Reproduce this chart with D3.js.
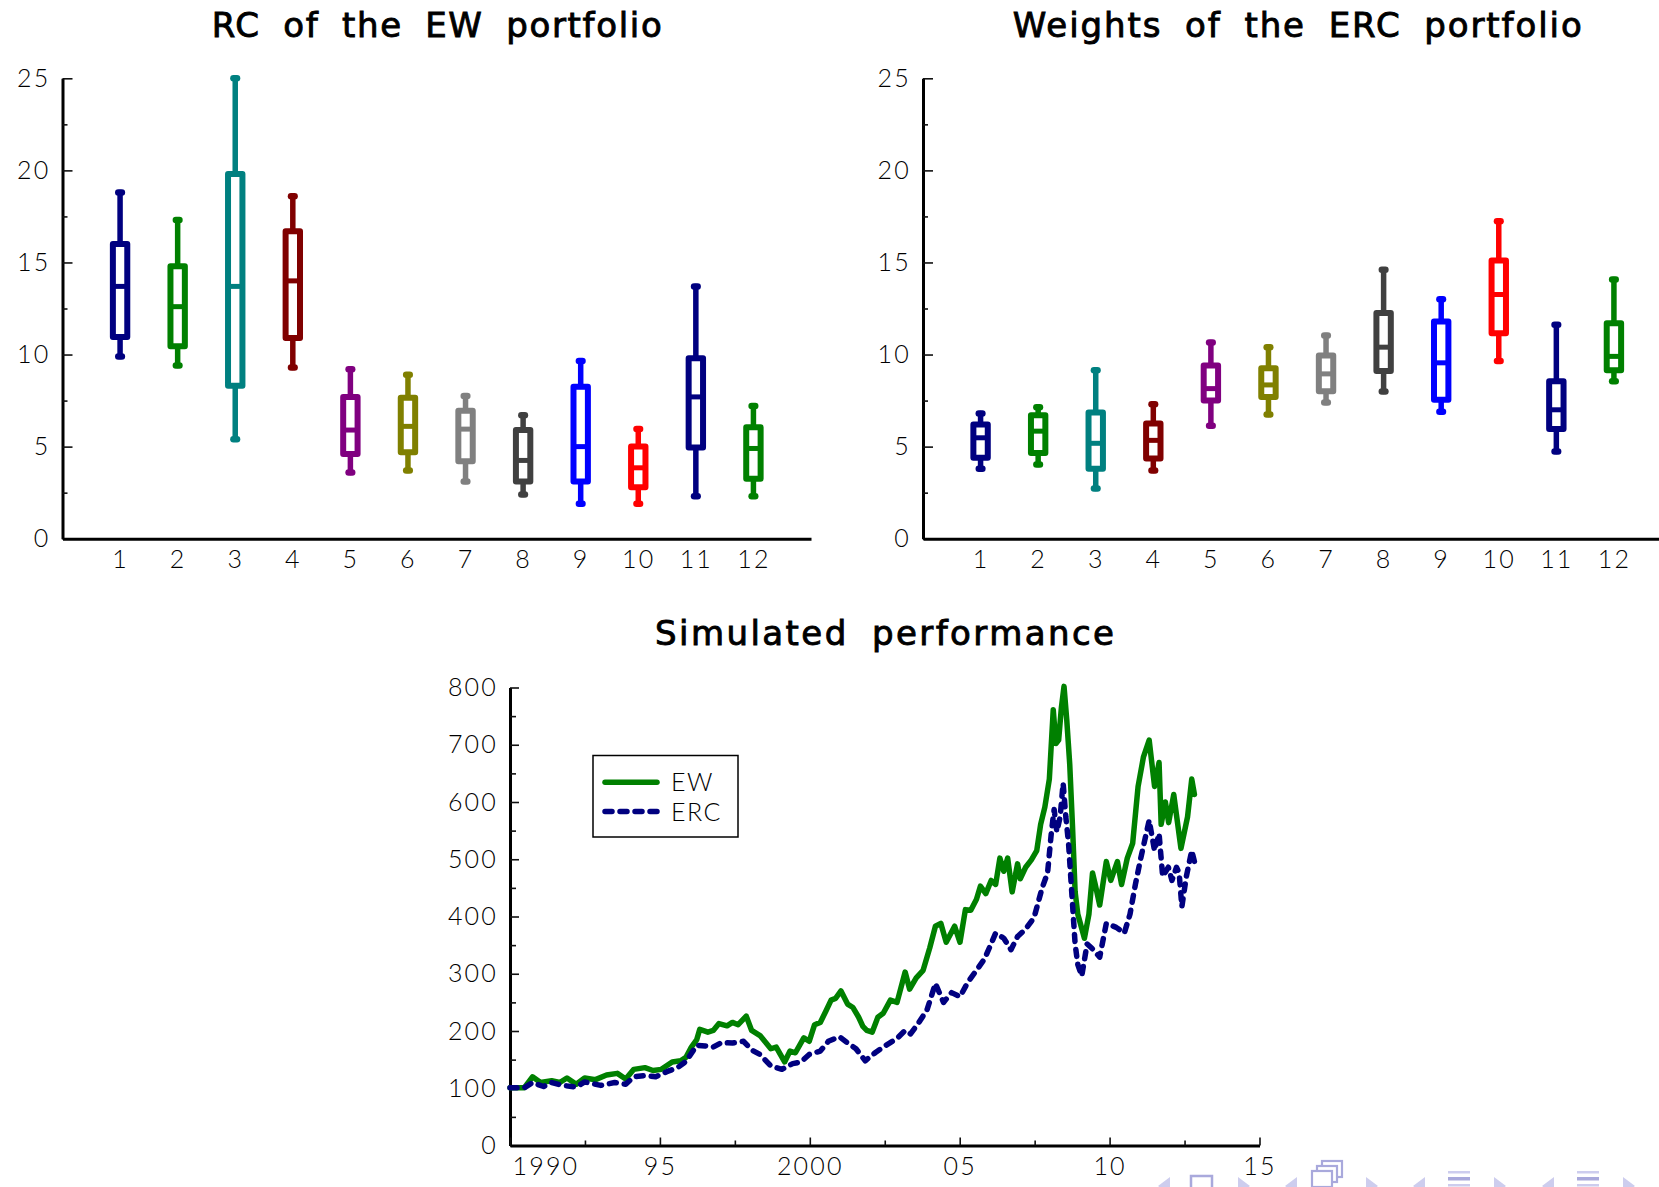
<!DOCTYPE html>
<html><head><meta charset="utf-8">
<script src="https://cdn.jsdelivr.net/npm/d3@7"></script>
<style>
body{margin:0;background:#fff;}
svg{display:block;}
</style></head><body>
<svg id="c" width="1659" height="1187"></svg>
<script>
// ---------------- DATA ----------------
const categories = [1,2,3,4,5,6,7,8,9,10,11,12];

// RC of the EW portfolio (box plots)
const ewMax = [18.8, 17.3, 25.0, 18.6, 9.2, 8.9, 7.75, 6.7, 9.65, 5.95, 13.7, 7.2];
const ewQ3  = [16.0, 14.8, 19.8, 16.7, 7.7, 7.65, 6.95, 5.9, 8.25, 5.0, 9.8, 6.05];
const ewMed = [13.7, 12.6, 13.7, 14.0, 5.9, 6.1, 5.95, 4.25, 5.0, 3.85, 7.7, 4.9];
const ewQ1  = [10.95, 10.45, 8.3, 10.9, 4.6, 4.7, 4.2, 3.1, 3.1, 2.8, 4.95, 3.25];
const ewMin = [9.9, 9.4, 5.4, 9.3, 3.6, 3.7, 3.1, 2.4, 1.9, 1.9, 2.3, 2.3];

// Weights of the ERC portfolio (box plots)
const ercMax = [6.8, 7.14, 9.15, 7.3, 10.65, 10.4, 11.04, 14.6, 13.0, 17.24, 11.62, 14.07];
const ercQ3  = [6.2, 6.7, 6.85, 6.25, 9.4, 9.25, 9.95, 12.25, 11.8, 15.1, 8.55, 11.7];
const ercMed = [5.48, 5.84, 5.18, 5.34, 8.15, 8.35, 8.95, 10.4, 9.55, 13.26, 7.0, 9.9];
const ercQ1  = [4.4, 4.65, 3.8, 4.35, 7.5, 7.7, 8.0, 9.1, 7.55, 11.15, 5.95, 9.15];
const ercMin = [3.8, 4.03, 2.73, 3.7, 6.14, 6.74, 7.4, 7.99, 6.9, 9.65, 4.74, 8.55];

const boxTicks = [0, 5, 10, 15, 20, 25];
const boxMinorTicks = [2.5, 7.5, 12.5, 17.5, 22.5];

// Simulated performance: [year, value]
const ewPerf = [
[1990.0,101],[1990.48,101],[1990.75,120],[1991.02,110],[1991.39,113],[1991.66,110],[1991.9,118],
[1992.21,107],[1992.49,118],[1992.85,115],[1993.22,123],[1993.58,126],[1993.86,116],[1994.13,133],
[1994.5,136],[1994.77,131],[1995.05,133],[1995.41,146],[1995.69,148],[1995.87,154],[1996.05,172],
[1996.23,185],[1996.33,203],[1996.6,198],[1996.78,201],[1996.97,213],[1997.24,209],[1997.42,215],
[1997.61,211],[1997.88,226],[1998.06,201],[1998.34,192],[1998.7,169],[1998.88,172],[1999.16,146],
[1999.34,165],[1999.52,162],[1999.8,188],[1999.98,182],[2000.16,211],[2000.35,215],[2000.53,234],
[2000.71,254],[2000.86,257],[2001.04,270],[2001.26,247],[2001.44,241],[2001.63,224],[2001.77,208],
[2001.9,201],[2002.08,198],[2002.27,224],[2002.45,231],[2002.69,254],[2002.91,250],[2003.18,303],
[2003.33,273],[2003.55,293],[2003.78,306],[2004.0,345],[2004.19,383],[2004.37,388],[2004.55,355],
[2004.83,383],[2005.01,355],[2005.19,412],[2005.37,411],[2005.56,430],[2005.69,453],[2005.87,440],
[2006.05,463],[2006.2,456],[2006.34,502],[2006.47,479],[2006.6,502],[2006.75,443],[2006.93,492],
[2007.02,466],[2007.2,486],[2007.39,499],[2007.57,515],[2007.7,561],[2007.84,591],[2007.99,640],
[2008.12,761],[2008.21,702],[2008.3,708],[2008.39,764],[2008.48,802],[2008.57,744],[2008.67,666],
[2008.76,561],[2008.85,443],[2008.94,404],[2009.16,362],[2009.31,404],[2009.43,476],[2009.52,456],
[2009.67,420],[2009.89,496],[2010.04,463],[2010.26,496],[2010.4,456],[2010.59,502],[2010.77,528],
[2010.95,627],[2011.13,679],[2011.32,708],[2011.5,627],[2011.65,669],[2011.72,561],[2011.86,600],
[2011.97,564],[2012.14,613],[2012.38,519],[2012.6,574],[2012.74,640],[2012.83,613]
];
const ercPerf = [
[1990.0,101],[1990.48,101],[1990.75,110],[1991.12,103],[1991.39,110],[1991.76,105],[1992.21,102],
[1992.49,111],[1993.03,105],[1993.49,110],[1993.86,107],[1994.13,120],[1994.5,122],[1994.86,120],
[1995.23,129],[1995.59,136],[1995.87,147],[1996.23,175],[1996.51,174],[1996.78,172],[1997.06,180],
[1997.42,179],[1997.79,182],[1998.06,167],[1998.34,159],[1998.7,139],[1999.07,133],[1999.43,143],
[1999.71,146],[1999.98,159],[2000.35,165],[2000.62,182],[2000.99,190],[2001.26,179],[2001.54,169],
[2001.85,148],[2002.18,162],[2002.54,175],[2002.91,187],[2003.18,201],[2003.36,195],[2003.64,215],
[2003.91,237],[2004.19,283],[2004.46,250],[2004.73,267],[2005.01,260],[2005.28,286],[2005.56,306],
[2005.83,326],[2006.2,371],[2006.47,362],[2006.71,342],[2006.93,365],[2007.2,378],[2007.48,398],
[2007.75,450],[2007.93,476],[2008.06,548],[2008.15,587],[2008.24,548],[2008.35,574],[2008.45,633],
[2008.54,574],[2008.63,528],[2008.72,456],[2008.85,352],[2008.94,316],[2009.07,296],[2009.25,352],
[2009.4,345],[2009.67,329],[2009.89,388],[2010.22,381],[2010.49,371],[2010.68,404],[2010.86,456],
[2011.04,502],[2011.32,568],[2011.5,515],[2011.65,545],[2011.77,470],[2011.96,486],[2012.08,463],
[2012.23,486],[2012.32,476],[2012.41,417],[2012.56,470],[2012.74,515],[2012.83,496]
];
const perfYTicks = [0,100,200,300,400,500,600,700,800];
const perfYMinor = [50,150,250,350,450,550,650,750];
const perfXTicks = [1990,1995,2000,2005,2010,2015];
const perfXLabels = ["1990","95","2000","05","10","15"];
const perfXMinor = [1992.5,1997.5,2002.5,2007.5,2012.5];
const seriesNames = ["EW","ERC"];

// ---------------- STYLE ----------------
const palette = ["#000080","#008000","#008080","#800000","#800080","#808000","#808080","#404040","#0000ff","#ff0000","#000080","#008000"];
const TICKFONT = "Lato, 'DejaVu Sans', sans-serif";
const TITLEFONT = "'DejaVu Sans', sans-serif";

const svg = d3.select("#c");

function title(x, y, txt, len){
  svg.append("text").attr("x",x).attr("y",y).attr("text-anchor","middle")
    .attr("font-family",TITLEFONT).attr("font-weight","normal").attr("font-size",34)
    .attr("stroke","#000").attr("stroke-width",0.9).attr("word-spacing","10px")
    .attr("textLength",len).attr("lengthAdjust","spacing")
    .text(txt);
}

function styleAxis(g){
  g.selectAll("text").attr("font-family",TICKFONT).attr("font-weight",300)
   .attr("font-size",25).attr("fill","#000").attr("letter-spacing","2.2px");
  g.selectAll(".tick line").attr("stroke","#111").attr("stroke-width",1.6);
}

function boxPanel(x0, x1, title_txt, tlen, mx, q3, md, q1, mn){
  const x = d3.scaleLinear().domain([0,13]).range([x0, x1]);
  const y = d3.scaleLinear().domain([0,25]).range([538.7, 78.3]);
  // y axis
  const gy = svg.append("g").attr("transform",`translate(${x0},0)`);
  gy.call(d3.axisLeft(y).tickValues(boxTicks).tickSizeInner(-10).tickSizeOuter(0).tickPadding(12).tickFormat(d3.format("d")));
  gy.select(".domain").attr("stroke","#000").attr("stroke-width",3);
  styleAxis(gy);
  const gym = svg.append("g").attr("transform",`translate(${x0},0)`);
  gym.call(d3.axisLeft(y).tickValues(boxMinorTicks).tickSizeInner(-5).tickSizeOuter(0).tickFormat(""));
  gym.select(".domain").remove();
  styleAxis(gym);
  // x axis
  const gx = svg.append("g").attr("transform",`translate(0,${y(0)})`);
  gx.call(d3.axisBottom(x).tickValues(categories).tickSize(0).tickPadding(12).tickFormat(d3.format("d")));
  gx.select(".domain").attr("stroke","#000").attr("stroke-width",3);
  styleAxis(gx);

  const hw = 7.2;
  categories.forEach((c,i)=>{
    const g = svg.append("g").attr("stroke",palette[i]).attr("fill","none").attr("stroke-linecap","round");
    const cx = x(c);
    // whiskers
    g.append("line").attr("x1",cx).attr("x2",cx).attr("y1",y(q3[i])).attr("y2",y(mx[i])).attr("stroke-width",5.5);
    g.append("line").attr("x1",cx).attr("x2",cx).attr("y1",y(q1[i])).attr("y2",y(mn[i])).attr("stroke-width",5.5);
    // whisker end dots
    [mx[i], mn[i]].forEach(v=>{
      g.append("line").attr("x1",cx-1.8).attr("x2",cx+1.8).attr("y1",y(v)).attr("y2",y(v)).attr("stroke-width",6.5);
    });
    // box
    g.append("rect").attr("x",cx-hw).attr("width",2*hw)
      .attr("y",y(q3[i])).attr("height",y(q1[i])-y(q3[i]))
      .attr("fill","#fff").attr("stroke-width",6).attr("stroke-linejoin","round").attr("stroke-linecap","butt");
    // median
    g.append("line").attr("x1",cx-hw).attr("x2",cx+hw).attr("y1",y(md[i])).attr("y2",y(md[i])).attr("stroke-width",5).attr("stroke-linecap","butt");
  });
  title((x0+x1)/2, 37, title_txt, tlen);
}

boxPanel(62.5, 811, "RC of the EW portfolio", 450, ewMax, ewQ3, ewMed, ewQ1, ewMin);
boxPanel(923, 1671.5, "Weights of the ERC portfolio", 569, ercMax, ercQ3, ercMed, ercQ1, ercMin);

// ---------------- Performance chart ----------------
const tx = d3.scaleLinear().domain([1990,2015]).range([510, 1259.5]);
const ty = d3.scaleLinear().domain([0,800]).range([1145.5, 687.5]);

const pgy = svg.append("g").attr("transform",`translate(${tx(1990)},0)`);
pgy.call(d3.axisLeft(ty).tickValues(perfYTicks).tickSizeInner(-9).tickSizeOuter(0).tickPadding(12).tickFormat(d3.format("d")));
pgy.select(".domain").attr("stroke","#000").attr("stroke-width",3);
styleAxis(pgy);
const pgym = svg.append("g").attr("transform",`translate(${tx(1990)},0)`);
pgym.call(d3.axisLeft(ty).tickValues(perfYMinor).tickSizeInner(-6).tickSizeOuter(0).tickFormat(""));
pgym.select(".domain").remove();
styleAxis(pgym);

const pgx = svg.append("g").attr("transform",`translate(0,${ty(0)})`);
pgx.call(d3.axisBottom(tx).tickValues(perfXTicks).tickSizeInner(-8).tickSizeOuter(0).tickPadding(12)
  .tickFormat((d,i)=>perfXLabels[i]));
pgx.select(".domain").attr("stroke","#000").attr("stroke-width",3);
styleAxis(pgx);
pgx.selectAll(".tick text").filter((d,i)=>i===0).attr("text-anchor","start").attr("x",2);
const pgxm = svg.append("g").attr("transform",`translate(0,${ty(0)})`);
pgxm.call(d3.axisBottom(tx).tickValues(perfXMinor).tickSizeInner(-5).tickSizeOuter(0).tickFormat(""));
pgxm.select(".domain").remove();
styleAxis(pgxm);

const line = d3.line().x(d=>tx(d[0])).y(d=>ty(d[1]));
svg.append("path").datum(ewPerf).attr("d",line).attr("fill","none").attr("stroke","#008000")
  .attr("stroke-width",5.5).attr("stroke-linejoin","round").attr("stroke-linecap","round");
svg.append("path").datum(ercPerf).attr("d",line).attr("fill","none").attr("stroke","#000080")
  .attr("stroke-width",5.5).attr("stroke-linejoin","round").attr("stroke-linecap","round")
  .attr("stroke-dasharray","7,8");

title(884.5, 645, "Simulated performance", 459);

// legend
const lg = svg.append("g");
lg.append("rect").attr("x",593).attr("y",755.5).attr("width",145).attr("height",81.5)
  .attr("fill","#fff").attr("stroke","#000").attr("stroke-width",1.5);
const legY = [782.3, 811.5];
const legCol = ["#008000","#000080"];
seriesNames.forEach((n,i)=>{
  const l = lg.append("line").attr("x1",605).attr("x2",657).attr("y1",legY[i]).attr("y2",legY[i])
    .attr("stroke",legCol[i]).attr("stroke-width",5.5).attr("stroke-linecap","round");
  if(i===1) l.attr("stroke-dasharray","7,8");
  lg.append("text").attr("x",671).attr("y",legY[i]+9).text(n)
    .attr("font-family",TICKFONT).attr("font-weight",300).attr("font-size",25).attr("letter-spacing","1.5px");
});

// beamer navigation symbols
const nav = svg.append("g");
const tri = "#cdcdee", ico = "#a9a9dc";
function triL(x){ nav.append("path").attr("d",`M${x+12},1177 L${x},1186 L${x+12},1195 Z`).attr("fill",tri); }
function triR(x){ nav.append("path").attr("d",`M${x},1177 L${x+12},1186 L${x},1195 Z`).attr("fill",tri); }
triL(1158); triR(1238);
nav.append("rect").attr("x",1191).attr("y",1176).attr("width",21).attr("height",20).attr("fill","none").attr("stroke",ico).attr("stroke-width",2.5);
triL(1285); triR(1366);
[[1322,1161],[1317,1166],[1312,1171]].forEach(p=>{
  nav.append("rect").attr("x",p[0]).attr("y",p[1]).attr("width",20).attr("height",16).attr("fill","#fff").attr("stroke",ico).attr("stroke-width",2.2);
});
triL(1413); triR(1494);
function lines(x){
  nav.append("rect").attr("x",x).attr("y",1171).attr("width",22).attr("height",2.5).attr("fill",tri);
  nav.append("rect").attr("x",x).attr("y",1177).attr("width",22).attr("height",3.5).attr("fill",ico);
  nav.append("rect").attr("x",x).attr("y",1184).attr("width",22).attr("height",2.5).attr("fill",tri);
}
lines(1448);
triL(1542); triR(1623);
lines(1577);
</script>
</body></html>
